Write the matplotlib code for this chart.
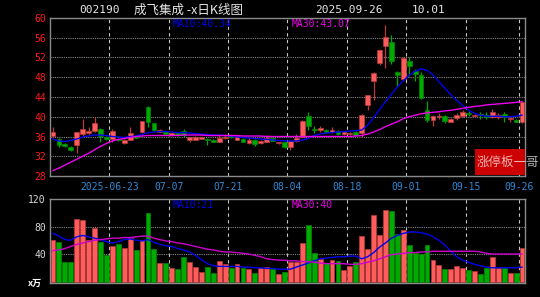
import numpy as np
import pandas as pd
import matplotlib
matplotlib.use('Agg')
import matplotlib.pyplot as plt
from matplotlib.patches import Rectangle

# 80 trading days, 2025-06-09 .. 2025-09-26
dates = pd.bdate_range('2025-06-09', '2025-09-26')

opens = [36.2, 35.5, 34.5, 33.8, 34.3, 36.5, 36.7, 37.1, 37.6, 35.9,
         35.5, 35.5, 34.6, 35.3, 36.0, 36.9, 41.9, 38.7, 37.0, 37.1,
         36.4, 36.7, 37.1, 35.3, 35.3, 35.5, 35.5, 35.3, 34.9, 35.7,
         36.2, 35.3, 35.5, 34.6, 35.3, 34.6, 34.9, 35.6, 34.6, 34.8,
         33.8, 35.0, 35.9, 40.2, 37.6, 37.4, 37.3, 37.0, 37.2, 36.6,
         36.5, 36.9, 36.8, 42.3, 47.2, 50.9, 54.4, 55.1, 49.1, 47.6,
         51.2, 49.2, 48.5, 41.3, 39.4, 40.0, 40.2, 39.0, 39.8, 40.2,
         40.8, 40.2, 40.5, 40.4, 39.9, 40.0, 40.6, 39.5, 39.3, 39.0]
closes = [36.9, 34.3, 34.0, 33.3, 36.9, 37.6, 37.1, 38.7, 36.2, 35.5,
          37.2, 35.2, 35.3, 36.7, 35.7, 39.1, 38.9, 37.3, 37.3, 36.5,
          36.8, 36.3, 36.4, 35.9, 36.0, 35.9, 35.2, 34.9, 35.7, 36.0,
          35.8, 36.2, 34.9, 35.3, 34.5, 35.1, 35.7, 35.1, 34.8, 33.8,
          35.0, 35.6, 39.1, 38.1, 37.3, 37.7, 36.9, 37.4, 36.5, 36.9,
          36.8, 36.4, 40.4, 44.4, 48.9, 53.6, 56.1, 51.2, 48.5, 51.9,
          50.2, 48.6, 43.8, 39.4, 40.2, 40.2, 39.2, 39.6, 40.4, 40.9,
          40.6, 40.4, 40.3, 40.0, 40.9, 40.3, 39.9, 39.7, 39.0, 42.9]
highs = [37.9, 35.7, 34.7, 34.0, 37.0, 39.6, 37.9, 40.0, 37.7, 36.1,
         37.5, 35.7, 35.5, 38.0, 36.1, 39.2, 42.1, 38.8, 37.5, 37.2,
         37.0, 36.8, 37.6, 36.0, 36.2, 36.0, 35.6, 35.4, 36.5, 36.5,
         36.3, 36.4, 35.6, 36.0, 35.4, 35.2, 36.3, 35.8, 34.9, 34.9,
         35.1, 36.5, 39.3, 40.9, 38.2, 38.1, 37.5, 38.0, 37.4, 37.2,
         37.0, 37.1, 40.6, 44.5, 49.0, 53.7, 58.6, 56.5, 49.2, 52.0,
         52.0, 49.7, 49.0, 43.1, 40.3, 40.8, 40.3, 39.8, 40.7, 41.4,
         41.2, 40.6, 41.0, 40.9, 41.6, 40.7, 41.0, 40.1, 39.5, 43.0]
lows = [35.6, 33.9, 33.8, 33.0, 32.6, 36.2, 36.4, 36.9, 34.9, 35.3,
        34.9, 35.0, 34.4, 35.2, 35.6, 36.8, 37.9, 37.1, 36.9, 36.4,
        36.2, 36.2, 36.0, 34.9, 35.2, 35.4, 34.2, 34.8, 34.8, 35.4,
        35.7, 35.2, 34.8, 34.5, 34.0, 34.5, 34.8, 35.0, 34.5, 33.6,
        33.2, 34.9, 35.8, 37.3, 36.8, 36.9, 36.7, 36.8, 36.4, 36.4,
        36.3, 36.2, 36.0, 41.3, 43.4, 50.5, 49.8, 50.7, 46.3, 47.3,
        48.3, 47.3, 43.5, 38.9, 38.2, 39.6, 38.7, 38.9, 39.3, 39.9,
        40.2, 40.0, 39.5, 39.6, 39.8, 39.6, 38.9, 38.9, 38.9, 38.8]

ma10 = [35.5, 35.1, 35.0, 35.2, 35.5, 35.9, 36.1, 36.3, 36.3, 36.2,
        36.0, 35.9, 35.8, 36.0, 36.1, 36.4, 36.8, 36.9, 37.0, 37.0,
        36.9, 36.8, 36.8, 36.7, 36.6, 36.5, 36.4, 36.3, 36.3, 36.2,
        36.1, 35.9, 35.8, 35.7, 35.6, 35.5, 35.4, 35.3, 35.2, 35.1,
        35.1, 35.1, 35.3, 35.6, 36.2, 36.5, 36.7, 36.8, 36.9, 37.0,
        37.1, 37.2, 37.3, 38.3, 39.8, 41.5, 43.0, 44.6, 46.0, 47.3,
        48.4, 49.2, 49.7, 49.4, 48.5, 47.1, 45.8, 44.5, 43.3, 42.3,
        41.3, 40.7, 40.3, 40.1, 40.1, 40.1, 40.0, 40.0, 40.1, 40.34]
ma30 = [29.1, 29.6, 30.2, 30.8, 31.4, 32.0, 32.6, 33.3, 34.0, 34.6,
        35.1, 35.4, 35.6, 35.8, 36.0, 36.1, 36.2, 36.2, 36.2, 36.2,
        36.2, 36.2, 36.3, 36.3, 36.3, 36.3, 36.2, 36.2, 36.2, 36.2,
        36.2, 36.2, 36.1, 36.1, 36.1, 36.1, 36.0, 36.0, 36.0, 36.0,
        36.0, 36.0, 36.0, 36.0, 36.0, 36.0, 36.0, 36.0, 36.0, 36.0,
        36.0, 36.1, 36.2, 36.5, 36.9, 37.4, 38.0, 38.5, 39.0, 39.6,
        40.0, 40.3, 40.6, 40.8, 40.9, 41.0, 41.2, 41.3, 41.5, 41.7,
        41.9, 42.1, 42.2, 42.4, 42.5, 42.6, 42.7, 42.8, 42.9, 43.07]

volume = [59.8, 56.9, 28.4, 28.4, 90.6, 89.7, 60.3, 78.1, 56.9, 38.1,
          51.6, 54.0, 48.2, 63.6, 45.3, 60.3, 99.8, 46.8, 27.0, 27.0,
          19.8, 18.3, 35.2, 28.4, 20.7, 14.5, 20.7, 13.0, 29.9, 25.5,
          19.8, 25.1, 20.2, 18.3, 12.5, 20.2, 21.7, 17.8, 10.6, 14.5,
          28.9, 28.9, 55.4, 82.9, 41.9, 32.3, 26.5, 31.3, 29.9, 16.9,
          22.7, 28.4, 66.5, 47.2, 97.4, 67.5, 104.1, 102.7, 68.4, 74.7,
          53.0, 41.9, 40.0, 53.0, 31.3, 23.6, 18.3, 18.3, 23.1, 20.2,
          16.9, 15.9, 11.1, 19.3, 35.2, 20.2, 20.2, 12.0, 12.0, 48.2]
vol_ma10 = [70, 66, 61, 60, 65, 67, 65, 63, 61, 58,
            56, 58, 61, 62, 60, 59, 61, 57, 54, 52,
            51, 48, 46, 43, 38, 32, 26, 23, 22, 22,
            22, 22, 21, 21, 20, 20, 19, 19, 18, 18,
            18, 21, 24, 27, 30, 33, 34, 35, 36, 36,
            37, 37, 33, 36, 42, 50, 56, 63, 67, 70,
            72, 72, 71, 69, 65, 60, 53, 44, 36, 31,
            28, 25, 23, 21, 20, 20, 20, 20, 20, 21]
vol_ma30 = [45, 46, 48, 51, 54, 56, 58, 60, 61, 62,
            63, 63, 64, 64, 65, 66, 66, 63, 61, 59,
            58, 56, 55, 53, 51, 49, 47, 46, 44, 43,
            43, 42, 41, 40, 38, 36, 33, 32, 31, 31,
            30, 30, 29, 29, 28, 27, 26, 26, 26, 26,
            25, 25, 26, 28, 30, 33, 36, 39, 40, 41,
            42, 42, 43, 43, 44, 44, 44, 44, 44, 44,
            44, 44, 43, 41, 40, 40, 40, 40, 40, 40]

tick_dates = ['2025-06-23', '2025-07-07', '2025-07-21', '2025-08-04',
              '2025-08-18', '2025-09-01', '2025-09-15', '2025-09-26']
tick_labels = ['2025-06-23', '07-07', '07-21', '08-04', '08-18', '09-01', '09-15', '09-26']

UP, UP_EDGE = '#ff5c5c', '#b83a3a'
DOWN, DOWN_EDGE = '#00aa00', '#008800'
MONO = 'DejaVu Sans Mono'
CJK = ['Noto Sans CJK SC', 'DejaVu Sans']

o = np.array(opens); c = np.array(closes)
h = np.array(highs); l = np.array(lows)
x = np.arange(len(o)) + 0.5
up = c >= o
tick_pos = [dates.get_loc(pd.Timestamp(d)) for d in tick_dates]

fig = plt.figure(figsize=(5.4, 2.97), dpi=100, facecolor='black')
ax = fig.add_axes([0.0926, 0.4074, 0.8796, 0.532])
axv = fig.add_axes([0.0926, 0.047, 0.8796, 0.283])

for a in (ax, axv):
    a.set_facecolor('black')
    for s in a.spines.values():
        s.set_color('#8a8a8a')
        s.set_linewidth(1)
    a.set_xlim(0, len(o))
    for p in tick_pos:
        a.axvline(p, color='#c8c8c8', lw=0.8, ls=(0, (3, 3)), zorder=1)

# price panel
ax.set_ylim(28, 60)
for yv in range(32, 60, 4):
    ax.axhline(yv, color='#8a8a8a', lw=0.8, ls=(0, (1, 1)), zorder=1)
ax.vlines(x[up], l[up], h[up], color=UP_EDGE, lw=0.9, zorder=2)
ax.vlines(x[~up], l[~up], h[~up], color=DOWN, lw=0.9, zorder=2)
body = np.maximum(np.abs(c - o), 0.12)
ax.bar(x[up], body[up], bottom=np.minimum(o, c)[up], width=0.8,
       color=UP, edgecolor=UP_EDGE, lw=0.5, zorder=3)
ax.bar(x[~up], body[~up], bottom=np.minimum(o, c)[~up], width=0.8,
       color=DOWN, edgecolor=DOWN_EDGE, lw=0.5, zorder=3)
ax.plot(x, ma10, color='#0000ee', lw=1, zorder=4)
ax.plot(x, ma30, color='#ee00ee', lw=1, zorder=4)

ax.set_yticks(range(28, 61, 4))
ax.set_xticks(tick_pos)
ax.set_xticklabels(tick_labels)
ax.tick_params(axis='y', length=0, pad=3, labelcolor='#ff1a1a', labelsize=7)
ax.tick_params(axis='x', length=0, pad=4, labelcolor='#2e8ad8', labelsize=7)
for t in ax.get_yticklabels() + ax.get_xticklabels():
    t.set_fontfamily(MONO)

ax.text(0.259, 0.995, 'MA10:40.34', transform=ax.transAxes, color='#0000ee',
        fontsize=7, family=MONO, va='top', ha='left')
ax.text(0.509, 0.995, 'MA30:43.07', transform=ax.transAxes, color='#ee00ee',
        fontsize=7, family=MONO, va='top', ha='left')

ax.add_patch(Rectangle((0.895, 0.006), 0.105, 0.163, transform=ax.transAxes,
                       facecolor='#cc0000', edgecolor='none', zorder=5, clip_on=False))
ax.text(0.898, 0.085, '涨停板一哥', transform=ax.transAxes, color='white', alpha=0.7,
        fontsize=9, family=CJK, va='center', ha='left', zorder=6, clip_on=False)

# volume panel
axv.set_ylim(-2.2, 120)
for yv in (40, 80):
    axv.axhline(yv, color='#8a8a8a', lw=0.8, ls=(0, (1, 1)), zorder=1)
vol = np.array(volume)
axv.bar(x[up], vol[up], width=0.82, color=UP, edgecolor=UP_EDGE, lw=0.5, zorder=2)
axv.bar(x[~up], vol[~up], width=0.82, color=DOWN, edgecolor=DOWN_EDGE, lw=0.5, zorder=2)
axv.plot(x, vol_ma10, color='#0000ee', lw=1, zorder=3)
axv.plot(x, vol_ma30, color='#cc00cc', lw=1, zorder=3)
axv.set_yticks([40, 80, 120])
axv.set_xticks([])
axv.tick_params(axis='y', length=0, pad=3, labelcolor='#d8d8d8', labelsize=7)
for t in axv.get_yticklabels():
    t.set_fontfamily(MONO)
axv.text(0.259, 0.99, 'MA10:21', transform=axv.transAxes, color='#0000ee',
         fontsize=7, family=MONO, va='top', ha='left')
axv.text(0.509, 0.99, 'MA30:40', transform=axv.transAxes, color='#ee00ee',
         fontsize=7, family=MONO, va='top', ha='left')
fig.text(28 / 540, 1 - 283 / 297, 'x万', color='white', fontsize=6.5,
         family=CJK, va='center', ha='left', fontweight='bold')

# title row
title_color = '#e6e6e6'
fig.text(79 / 540, 1 - 10 / 297, '002190', color=title_color, fontsize=8, family=MONO, va='center')
fig.text(134 / 540, 1 - 10 / 297, '成飞集成 -x日K线图', color=title_color, fontsize=9,
         family=CJK, va='center')
fig.text(315 / 540, 1 - 10 / 297, '2025-09-26', color=title_color, fontsize=8, family=MONO, va='center')
fig.text(412 / 540, 1 - 10 / 297, '10.01', color=title_color, fontsize=8, family=MONO, va='center')

fig.savefig('out.png', dpi=100, facecolor='black')
